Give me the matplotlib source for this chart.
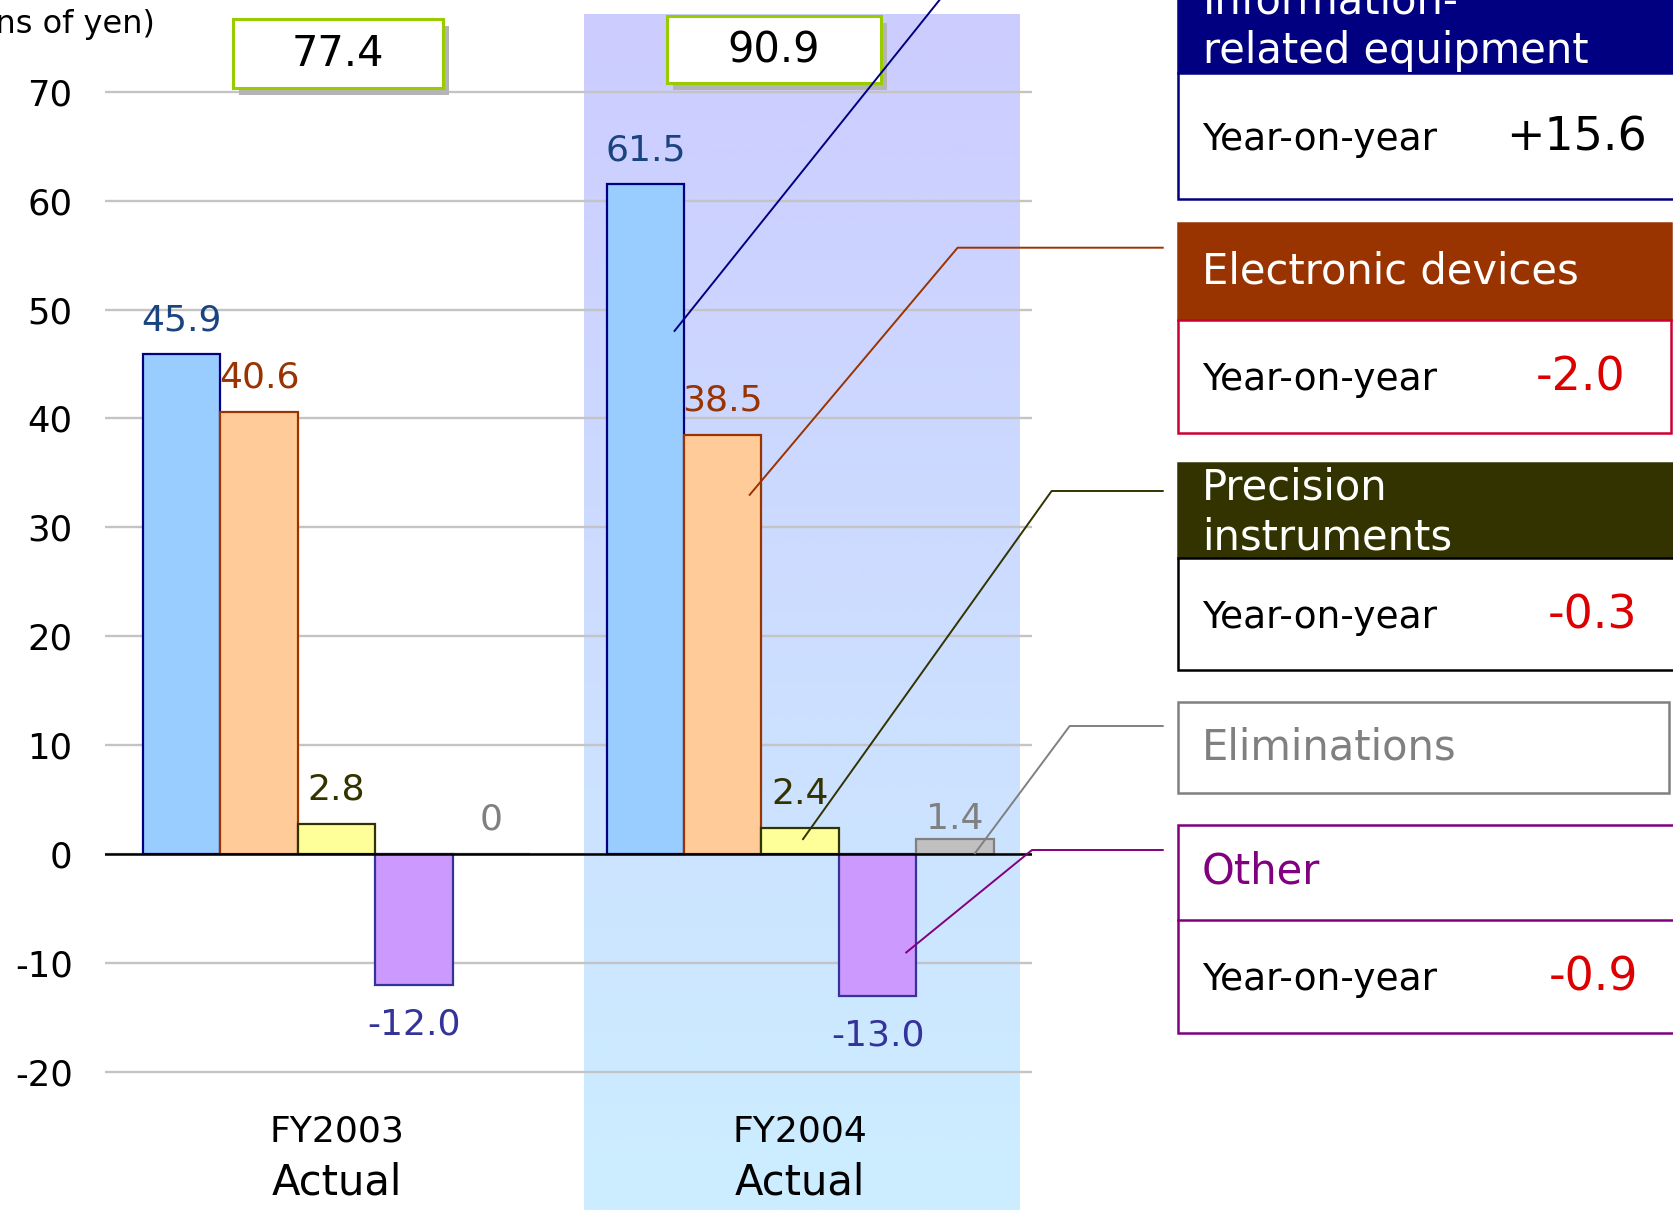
import numpy as np
import matplotlib
matplotlib.use("Agg")
import matplotlib.pyplot as plt
from matplotlib.patches import Rectangle

# ---------------- data ----------------
years = ["FY2003", "FY2004"]
year_sub = ["Actual", "Actual"]
segment_names = ["Information-related equipment", "Electronic devices",
                 "Precision instruments", "Other", "Eliminations"]
info_vals = [45.9, 61.5]
elec_vals = [40.6, 38.5]
prec_vals = [2.8, 2.4]
other_vals = [-12.0, -13.0]
elim_vals = [0.0, 1.4]
totals = [77.4, 90.9]
yoy_info = 15.6
yoy_elec = -2.0
yoy_prec = -0.3
yoy_other = -0.9
y_ticks = [-20, -10, 0, 10, 20, 30, 40, 50, 60, 70]

series = [info_vals, elec_vals, prec_vals, other_vals, elim_vals]
face_colors = ["#99CCFF", "#FFCC99", "#FFFF99", "#CC99FF", "#C0C0C0"]
edge_colors = ["#000080", "#993300", "#333300", "#333399", "#808080"]
label_colors = ["#1A4480", "#993300", "#333300", "#333399", "#808080"]

# ---------------- figure ----------------
W, H, DPI = 1674, 1210, 100
fig = plt.figure(figsize=(W / DPI, H / DPI), dpi=DPI)
fig.patch.set_facecolor("white")
plt.rcParams["font.family"] = ["DejaVu Sans"]

# pixel-space layers (y grows downward)
def pixel_axes(z):
    a = fig.add_axes([0, 0, 1, 1])
    a.set_xlim(0, W)
    a.set_ylim(H, 0)
    a.axis("off")
    a.set_zorder(z)
    a.patch.set_alpha(0)
    return a

ax_bg = pixel_axes(0)

# highlighted FY2004 band with vertical gradient
top_c = np.array([0xCC, 0xCC, 0xFF]) / 255
bot_c = np.array([0xCC, 0xEE, 0xFF]) / 255
t = np.linspace(0, 1, 256)[:, None, None]
grad = top_c * (1 - t) + bot_c * t
ax_bg.imshow(grad, extent=(584, 1020, 1210, 14), aspect="auto",
             interpolation="bilinear", origin="upper")
ax_bg.set_xlim(0, W)
ax_bg.set_ylim(H, 0)

# main bar chart axes
zero_px = 854.0
unit_px = (854.0 - 91.8) / 70.0
ylo, yhi = -22, 72
bottom_px = zero_px - ylo * unit_px
top_px = zero_px - yhi * unit_px
left_px, right_px = 104.6, 1032.0
ax = fig.add_axes([left_px / W, (H - bottom_px) / H,
                   (right_px - left_px) / W, (bottom_px - top_px) / H])
ax.set_zorder(1)
ax.patch.set_alpha(0)
ax.set_xlim(-0.5, 1.5)
ax.set_ylim(ylo, yhi)
for s in ax.spines.values():
    s.set_visible(False)
ax.set_yticks(y_ticks)
ax.set_yticklabels([str(v) for v in y_ticks], fontsize=25.5)
ax.tick_params(axis="y", length=0, pad=23)
ax.set_xticks([])
ax.yaxis.grid(True, color="#C4C4C4", linewidth=1.7)
ax.set_axisbelow(True)
ax.axhline(0, color="black", linewidth=1.8, zorder=4)

bar_w = 0.167
x = np.arange(len(years))
n = len(series)
for i, vals in enumerate(series):
    xs = x + (i - (n - 1) / 2) * bar_w
    ax.bar(xs, vals, width=bar_w, color=face_colors[i], edgecolor=edge_colors[i],
           linewidth=1.6, zorder=3)
    for xi, v in zip(xs, vals):
        txt = "0" if v == 0 else f"{v:.1f}"
        if i == 4:
            anchor, off = 0, 25
        elif v >= 0:
            anchor, off = v, 24.5
        else:
            anchor, off = v, -29
        ax.annotate(txt, (xi, anchor), xytext=(0, off), textcoords="offset points",
                    ha="center", va="center", fontsize=26, color=label_colors[i],
                    annotation_clip=False)

# category labels
for xi, (yr, sub) in enumerate(zip(years, year_sub)):
    ax.text(xi, -25.5, yr, ha="center", va="center", fontsize=26, clip_on=False)
    ax.text(xi, -30.2, sub, ha="center", va="center", fontsize=30, clip_on=False)

# ---------------- foreground annotations ----------------
ax_fg = pixel_axes(3)
fig.canvas.draw()

ax_fg.text(155, 24, "(Billions of yen)", ha="right", va="center", fontsize=23)

# total boxes with shadow
total_boxes = [(233, 19, 443, 88), (667, 16, 881, 83)]
for (x0, y0, x1, y1), tot in zip(total_boxes, totals):
    ax_fg.add_patch(Rectangle((x0 + 6, y0 + 7), x1 - x0, y1 - y0,
                              facecolor="#B4B4B4", edgecolor="none"))
    ax_fg.add_patch(Rectangle((x0, y0), x1 - x0, y1 - y0, facecolor="white",
                              edgecolor="#99CC00", linewidth=2.2))
    ax_fg.text((x0 + x1) / 2, (y0 + y1) / 2 + 1, f"{tot:.1f}", ha="center",
               va="center", fontsize=30)


def to_px(xd, yd):
    disp = ax.transData.transform((xd, yd))
    return ax_fg.transData.inverted().transform(disp)


# leader lines: (series index, fraction across bar, fraction of height, elbow, end)
leaders = [
    (0, 0.87, 0.78, (951.5, -15), None, "#000080"),
    (1, 0.84, 0.855, (957.6, 247.7), (1163.7, 247.7), "#993300"),
    (2, 0.53, 0.54, (1051.6, 491), (1163.7, 491), "#333300"),
    (4, 0.75, 0.0, (1069.7, 726), (1163.7, 726), "#808080"),
    (3, 0.86, 0.70, (1032, 850), (1163.7, 850), "#800080"),
]
for si, fx, fy, elbow, end, col in leaders:
    v = series[si][1]
    xb = 1 + (si - (n - 1) / 2) * bar_w - bar_w / 2 + fx * bar_w
    p0 = to_px(xb, v * fy)
    pts = [p0, elbow] + ([end] if end else [])
    ax_fg.plot([p[0] for p in pts], [p[1] for p in pts], color=col,
               linewidth=1.4, solid_capstyle="butt")

# segment panels
PX0 = 1178


def rect(x0, y0, x1, y1, fc, ec, lw=1.8):
    ax_fg.add_patch(Rectangle((x0, y0), x1 - x0, y1 - y0, facecolor=fc,
                              edgecolor=ec, linewidth=lw))


def yoy_text(v):
    return f"+{v:.1f}" if v > 0 else f"{v:.1f}"


HDR_FS, YOY_FS, VAL_FS = 30, 27, 33

# Information-related equipment
rect(PX0, -10, 1700, 73, "#000080", "#000080")
rect(PX0, 73, 1700, 199, "white", "#000080")
ax_fg.text(1203, 1, "Information-", color="white", fontsize=HDR_FS, va="center")
ax_fg.text(1203, 51, "related equipment", color="white", fontsize=HDR_FS, va="center")
ax_fg.text(1202, 140, "Year-on-year", fontsize=YOY_FS, va="center")
ax_fg.text(1647, 138, yoy_text(yoy_info), fontsize=VAL_FS, va="center", ha="right")

# Electronic devices
rect(PX0, 223, 1671, 320, "#993300", "#993300")
rect(PX0, 320, 1671, 433, "white", "#CC0033")
ax_fg.text(1202, 272, "Electronic devices", color="white", fontsize=HDR_FS, va="center")
ax_fg.text(1202, 380, "Year-on-year", fontsize=YOY_FS, va="center")
ax_fg.text(1625, 378, yoy_text(yoy_elec), fontsize=VAL_FS, va="center", ha="right",
           color="#DD0000")

# Precision instruments
rect(PX0, 463, 1700, 558, "#333300", "#333300")
rect(PX0, 558, 1700, 670, "white", "black")
ax_fg.text(1202, 488, "Precision", color="white", fontsize=HDR_FS, va="center")
ax_fg.text(1202, 538, "instruments", color="white", fontsize=HDR_FS, va="center")
ax_fg.text(1202, 618, "Year-on-year", fontsize=YOY_FS, va="center")
ax_fg.text(1637, 616, yoy_text(yoy_prec), fontsize=VAL_FS, va="center", ha="right",
           color="#DD0000")

# Eliminations
rect(PX0, 702, 1669, 793, "white", "#808080")
ax_fg.text(1202, 747, "Eliminations", color="#808080", fontsize=HDR_FS, va="center")

# Other
rect(PX0, 825, 1700, 1033, "white", "#800080")
ax_fg.plot([PX0, 1700], [920, 920], color="#800080", linewidth=1.8)
ax_fg.text(1202, 872, "Other", color="#800080", fontsize=HDR_FS, va="center")
ax_fg.text(1202, 980, "Year-on-year", fontsize=YOY_FS, va="center")
ax_fg.text(1638, 978, yoy_text(yoy_other), fontsize=VAL_FS, va="center", ha="right",
           color="#DD0000")

fig.savefig("out.png", dpi=DPI)
